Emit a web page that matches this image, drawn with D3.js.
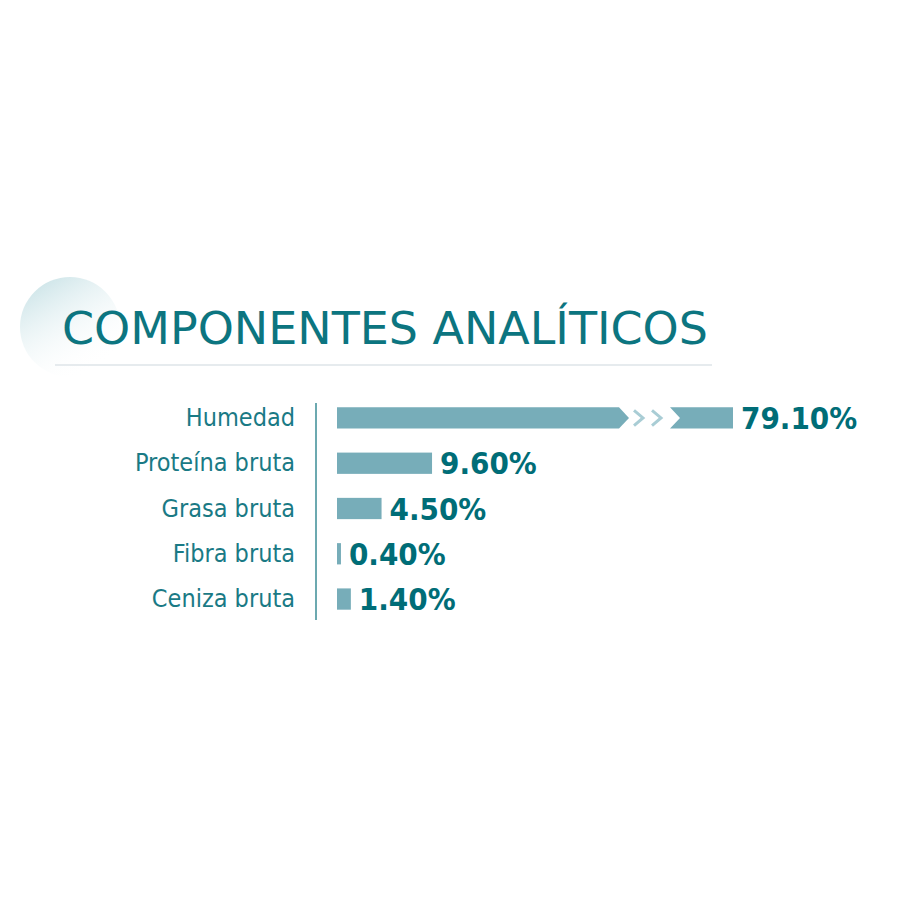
<!DOCTYPE html>
<html><head><meta charset="utf-8">
<script src="https://cdn.jsdelivr.net/npm/d3@7"></script>
<style>body{margin:0;background:#fff}</style></head>
<body><svg id="c" width="900" height="900"></svg>
<script>
const categories=["Humedad","Proteína bruta","Grasa bruta","Fibra bruta","Ceniza bruta"];
const values=[79.10,9.60,4.50,0.40,1.40];
const labels=["79.10%","9.60%","4.50%","0.40%","1.40%"];
const title="COMPONENTES ANALÍTICOS";

const svg=d3.select("#c");
const defs=svg.append("defs");
const g=defs.append("linearGradient").attr("id","cg").attr("x1","0").attr("y1","0").attr("x2","0.6").attr("y2","1");
g.append("stop").attr("offset","0").attr("stop-color","#bfdde2");
g.append("stop").attr("offset","1").attr("stop-color","#ffffff").attr("stop-opacity","0");
svg.append("circle").attr("cx",70).attr("cy",327).attr("r",50).attr("fill","url(#cg)");
svg.append("text").attr("x",62).attr("y",344).text(title)
  .attr("font-family","DejaVu Sans Condensed").attr("font-size",44).attr("fill","#0c7580")
  .attr("textLength",646).attr("lengthAdjust","spacingAndGlyphs");
svg.append("line").attr("x1",55).attr("x2",712).attr("y1",365).attr("y2",365).attr("stroke","#e6ebee").attr("stroke-width",2);

const x=d3.scaleLinear().domain([0,10]).range([337,436]);
const xb=d3.scaleLinear().domain([73.4,79.1]).range([676,733]); // broken segment
const y=d3.scaleBand().domain(categories).range([396,621]).paddingInner(0.53).paddingOuter(0.25);
svg.append("line").attr("x1",316).attr("x2",316).attr("y1",403).attr("y2",620).attr("stroke","#3b8c96").attr("stroke-width",1.5);
const col="#77adb9";
categories.forEach((c,i)=>{
  const yy=y(c),h=y.bandwidth(),m=yy+h/2;
  svg.append("text").attr("x",295).attr("y",m+8).attr("text-anchor","end").text(c)
    .attr("font-family","DejaVu Sans Condensed").attr("font-size",25).attr("fill","#1a7a85");
  let end;
  if(i===0){
    const a=619,t=629;
    svg.append("path").attr("fill",col).attr("d",`M${x(0)},${yy}H${a}L${t},${m}L${a},${yy+h}H${x(0)}Z`);
    [634,652].forEach(cx=>svg.append("path").attr("fill","none").attr("stroke","#a9cdd5").attr("stroke-width",3)
      .attr("d",`M${cx},${yy+3}L${cx+9},${m}L${cx},${yy+h-3}`));
    svg.append("path").attr("fill",col).attr("d",`M${xb(73.4)-6},${yy}H${xb(79.1)}V${yy+h}H${xb(73.4)-6}L${xb(73.4)+4},${m}Z`);
    end=xb(79.1);
  } else {
    svg.append("rect").attr("x",x(0)).attr("y",yy).attr("width",x(values[i])-x(0)).attr("height",h).attr("fill",col);
    end=x(values[i]);
  }
  svg.append("text").attr("x",end+8).attr("y",m+11).text(labels[i])
    .attr("font-family","DejaVu Sans Condensed").attr("font-weight","bold").attr("font-size",31).attr("fill","#006d77");
});
</script></body></html>
